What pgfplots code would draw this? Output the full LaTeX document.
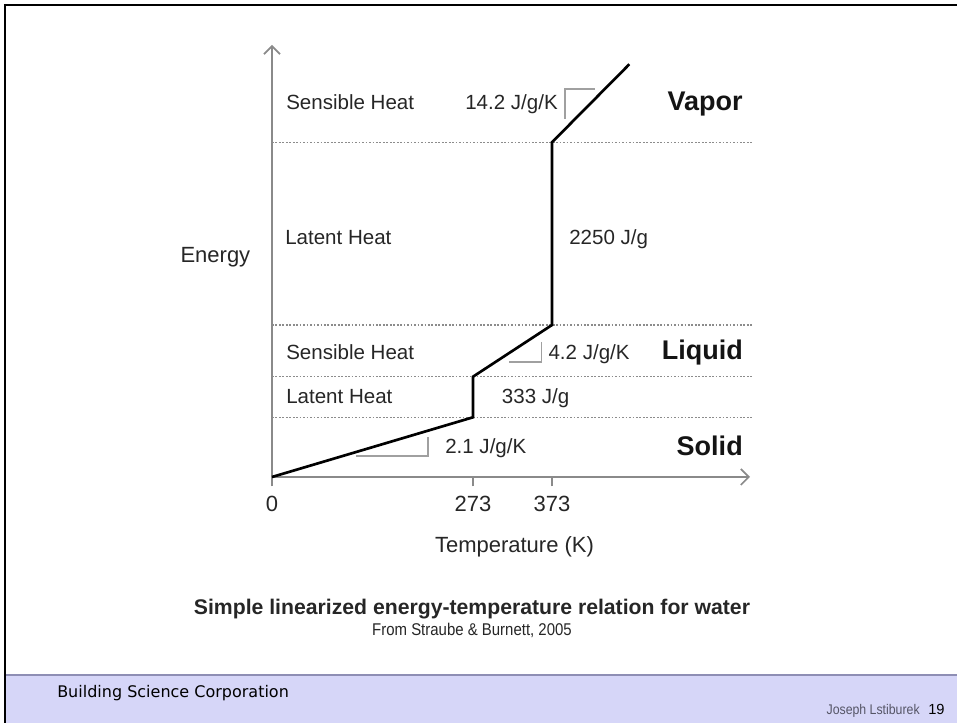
\documentclass[border=0pt]{standalone}
\usepackage{fontspec}
\setmainfont{Liberation Sans}
\newfontfamily\narrowfont{Liberation Sans}[FakeStretch=0.88]
\newfontfamily\verdanafont{DejaVu Sans}
\usepackage{pgfplots}
\pgfplotsset{compat=1.18}
\usetikzlibrary{arrows.meta}
\definecolor{axisgray}{HTML}{8A8A8A}
\definecolor{dotgray}{HTML}{8C8C8C}
\definecolor{markgray}{HTML}{A0A0A0}
\definecolor{band}{HTML}{D6D6F8}
\definecolor{bandline}{HTML}{8E8EB4}
\definecolor{txt}{HTML}{262626}
\definecolor{foot}{HTML}{555566}
\newcommand{\fs}[1]{\fontsize{#1}{#1}\selectfont}

\pgfplotstableread{
x y
0 0
201 59.7
201 100.3
280 152
280 334.7
357.3 412.7
}\curve

\begin{document}
\begin{tikzpicture}
% slide background elements (1 unit = 1 px, origin at the axis origin)
\begin{scope}[x=0.75pt,y=0.75pt]
\fill[band] (-266,-198) rectangle (685,-246);
\draw[bandline, line width=0.8pt] (-266,-198) -- (685,-198);
\draw[black, line width=2.2pt] (-268,472) -- (685,472);
\draw[black, line width=1.9pt] (-267,473) -- (-267,-246);
\end{scope}

\begin{axis}[
  anchor=origin, at={(0pt,0pt)},
  scale only axis, width=358.5pt, height=324pt,
  xmin=0, xmax=478, ymin=0, ymax=432,
  axis lines=left,
  axis line style={axisgray, line width=1.5pt, -{Straight Barb[length=6pt,width=12pt,line width=1.3pt]}},
  xtick={0,201,280}, xticklabels={0,273,373},
  ytick=\empty,
  tick align=outside, major tick length=7pt,
  tick style={axisgray, line width=1.5pt},
  x tick label style={font=\fs{16.5}, text=txt, anchor=base, yshift=-19pt},
  clip=false,
]
% dotted phase boundaries
\addplot[dotgray, line width=0.9pt, dash pattern=on 1.3pt off 1.3pt] coordinates {(0,59.7) (480,59.7)};
\addplot[dotgray, line width=0.9pt, dash pattern=on 1.3pt off 1.3pt] coordinates {(0,100.3) (480,100.3)};
\addplot[dotgray, line width=0.9pt, dash pattern=on 1.3pt off 1.3pt] coordinates {(0,152) (480,152)};
\addplot[dotgray, line width=0.9pt, dash pattern=on 1.3pt off 1.3pt] coordinates {(0,334.7) (480,334.7)};
% slope markers
\addplot[markgray, line width=1.2pt] coordinates {(293,358) (293,388) (323,388)};
\addplot[markgray, line width=1.2pt] coordinates {(269.7,135) (269.7,115) (237,115)};
\addplot[markgray, line width=1.2pt] coordinates {(156,40) (156,21) (84,21)};
% energy-temperature curve
\addplot[black, line width=2pt, line join=miter] table[x=x,y=y] {\curve};

% labels
\begin{scope}[every node/.style={inner sep=0pt, text=txt, font=\fs{15.4}}]
\node[anchor=base west] at (axis cs:14,367) {Sensible Heat};
\node[anchor=base west] at (axis cs:193,367) {14.2 J/g/K};
\node[anchor=base west] at (axis cs:13,232) {Latent Heat};
\node[anchor=base west] at (axis cs:297,232) {2250 J/g};
\node[anchor=base west] at (axis cs:14,117) {Sensible Heat};
\node[anchor=base west] at (axis cs:276.3,117) {4.2 J/g/K};
\node[anchor=base west] at (axis cs:14,73) {Latent Heat};
\node[anchor=base west] at (axis cs:229.7,73) {333 J/g};
\node[anchor=base west] at (axis cs:173,23) {2.1 J/g/K};
\end{scope}
\begin{scope}[every node/.style={inner sep=0pt, text=black!92, font=\fs{20.25}\bfseries}]
\node[anchor=base east] at (axis cs:471,366) {Vapor};
\node[anchor=base east] at (axis cs:471,117) {Liquid};
\node[anchor=base east] at (axis cs:471,21) {Solid};
\end{scope}
\node[inner sep=0pt, text=txt, font=\fs{16.5}, anchor=base] at (axis cs:-56.6,214) {Energy};
\node[inner sep=0pt, text=txt, font=\fs{16.5}, anchor=base] at (axis cs:242.5,-76) {Temperature (K)};
\node[inner sep=0pt, text=txt, font=\fs{15.9}\bfseries, anchor=base] at (axis cs:200,-138) {Simple linearized energy-temperature relation for water};
\node[inner sep=0pt, text=txt, font=\narrowfont\fs{12.75}, anchor=base] at (axis cs:200,-159) {From Straube \& Burnett, 2005};
\node[inner sep=0pt, text=black, font=\verdanafont\fs{12}, anchor=base west] at (axis cs:-215,-221) {Building Science Corporation};
\node[inner sep=0pt, text=foot, font=\narrowfont\fs{10.5}, anchor=base east] at (axis cs:648,-238) {Joseph Lstiburek};
\node[inner sep=0pt, text=black, font=\fs{11}, anchor=base west] at (axis cs:656,-238) {19};
\end{axis}

\begin{scope}[x=0.75pt,y=0.75pt]
\pgfresetboundingbox
\path[use as bounding box] (-272,-246) rectangle (685,477);
\end{scope}
\end{tikzpicture}
\end{document}
